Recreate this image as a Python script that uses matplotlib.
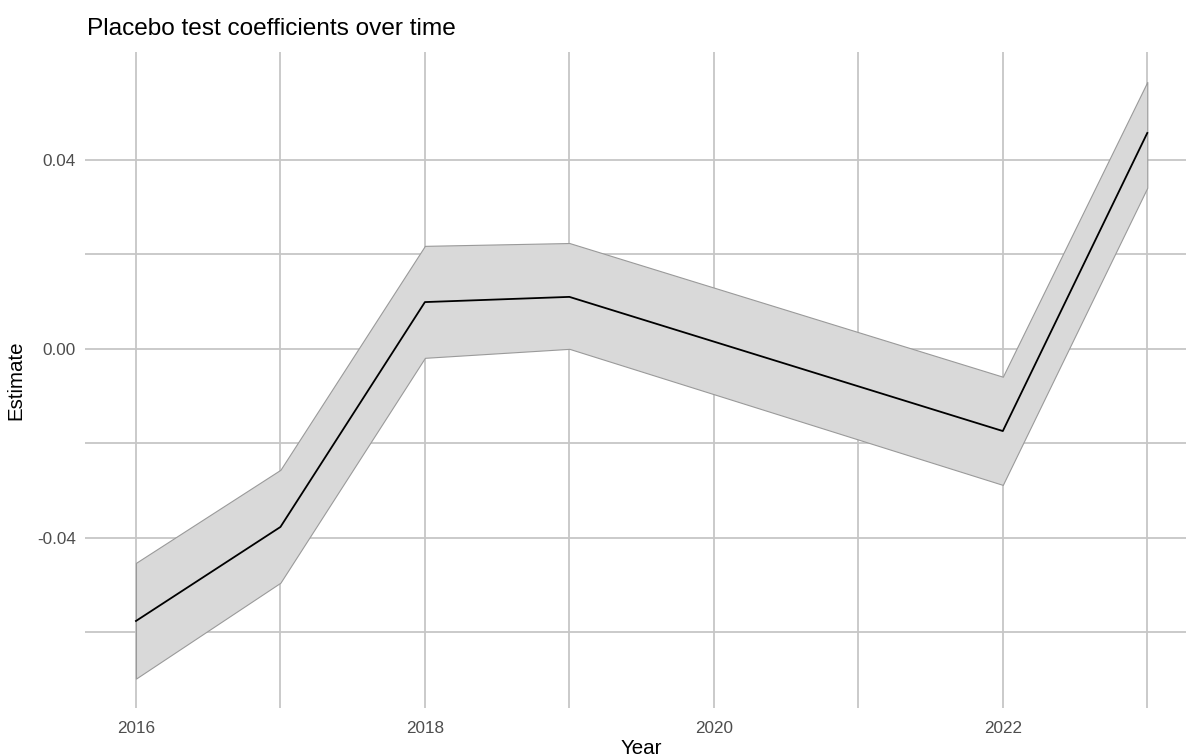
import matplotlib.pyplot as plt
import numpy as np

plt.rcParams['font.family'] = ['Liberation Sans', 'DejaVu Sans']

years = [2016, 2017, 2018, 2019, 2022, 2023]
estimate = [-0.0576, -0.0377, 0.0099, 0.0110, -0.0174, 0.0457]
upper = [-0.0453, -0.0256, 0.0218, 0.0224, -0.0059, 0.0565]
lower = [-0.0698, -0.0495, -0.0019, 0.0000, -0.0288, 0.0341]

fig = plt.figure(figsize=(11.86, 7.56), dpi=100)
ax = fig.add_axes([0.072, 0.063, 0.938, 0.868])

grid_col = '#c6c6c6'
ax.fill_between(years, lower, upper, facecolor='#d9d9d9', edgecolor='#9a9a9a',
                linewidth=0.8, zorder=2)
ax.plot(years, estimate, color='black', linewidth=1.3, zorder=3)

ax.set_xlim(2015.65, 2023.35)
ax.set_ylim(-0.0761, 0.0628)
ax.set_xticks([2016, 2018, 2020, 2022])
ax.set_xticks([2017, 2019, 2021, 2023], minor=True)
ax.set_yticks([-0.04, 0.0, 0.04])
ax.set_yticks([-0.06, -0.02, 0.02], minor=True)
ax.set_yticklabels(['-0.04', '0.00', '0.04'])

ax.grid(True, which='both', color=grid_col, linewidth=1.3, zorder=0)
ax.set_axisbelow(True)
for s in ax.spines.values():
    s.set_visible(False)
ax.tick_params(which='both', length=0, labelsize=12.3, labelcolor='#4d4d4d')
ax.tick_params(axis='y', pad=7)
ax.tick_params(axis='x', pad=9)

ax.set_xlabel('Year', fontsize=14.8, labelpad=2)
ax.set_ylabel('Estimate', fontsize=14.8, labelpad=8)
fig.text(0.0735, 0.961, 'Placebo test coefficients over time', fontsize=17.6,
         ha='left', va='center')

fig.savefig('out.png', dpi=100)
